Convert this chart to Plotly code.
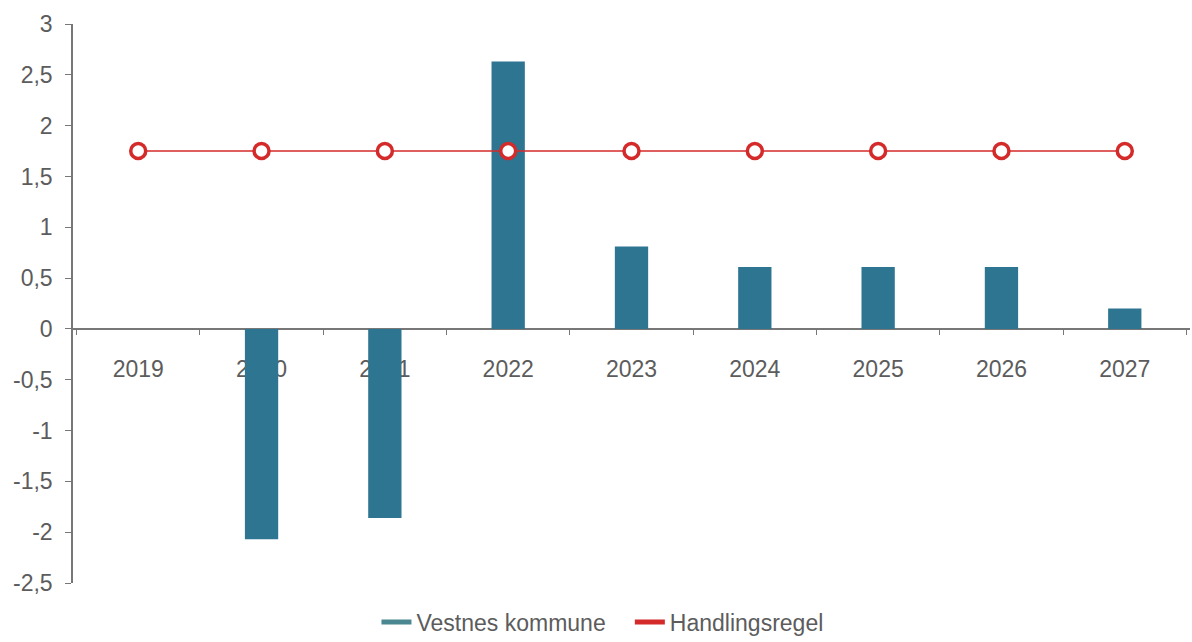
import plotly.graph_objects as go

years = ["2019", "2020", "2021", "2022", "2023", "2024", "2025", "2026", "2027"]
vestnes = [0, -2.07, -1.86, 2.63, 0.81, 0.61, 0.61, 0.61, 0.2]
handlingsregel = [1.75] * 9
y_tickvals = [3, 2.5, 2, 1.5, 1, 0.5, 0, -0.5, -1, -1.5, -2, -2.5]
y_ticktext = ["3", "2,5", "2", "1,5", "1", "0,5", "0", "-0,5", "-1", "-1,5", "-2", "-2,5"]

ymin, ymax = -2.5, 3
bar_color = "#2d7591"
line_color = "#d42a2a"
text_color = "#5c5c5c"

fig = go.Figure()
fig.add_trace(go.Bar(
    x=years, y=vestnes, name="Vestnes kommune",
    marker=dict(color=bar_color, line=dict(width=0)),
    width=0.27, showlegend=False,
))
fig.add_trace(go.Scatter(
    x=years, y=handlingsregel, name="Handlingsregel",
    mode="lines+markers",
    line=dict(color=line_color, width=1.5),
    marker=dict(symbol="circle", size=15, color="white",
                line=dict(color=line_color, width=3.5)),
    showlegend=False,
))
# legend entries (line swatches as in the reference)
fig.add_trace(go.Scatter(x=[None], y=[None], mode="lines", name="Vestnes kommune   ",
                         line=dict(color="#4a8790", width=5)))
fig.add_trace(go.Scatter(x=[None], y=[None], mode="lines", name="Handlingsregel",
                         line=dict(color=line_color, width=5)))

fig.update_layout(
    width=1192, height=642,
    margin=dict(l=73, r=2, t=24, b=59, autoexpand=False),
    paper_bgcolor="white", plot_bgcolor="white",
    font=dict(family="Liberation Sans, Arial, sans-serif", size=23, color=text_color),
    showlegend=True,
    legend=dict(orientation="h", x=0.474, xanchor="center", y=-0.070, yanchor="middle",
                font=dict(size=23, color=text_color), traceorder="normal",
                itemwidth=30),
)
fig.update_xaxes(
    type="category",
    anchor="free", position=(0 - ymin) / (ymax - ymin),
    showline=True, linecolor="#777777", linewidth=1.5,
    ticks="outside", ticklen=5, tickcolor="#777777", tickson="boundaries",
    showgrid=False, zeroline=False, layer="below traces",
    ticklabelstandoff=20, automargin=False,
    tickfont=dict(size=23, color=text_color),
)
fig.update_yaxes(
    range=[ymin, ymax],
    tickvals=y_tickvals, ticktext=y_ticktext,
    showline=True, linecolor="#777777", linewidth=1.5,
    ticks="outside", ticklen=6, tickcolor="#777777",
    showgrid=False, zeroline=False, automargin=False,
    ticklabelstandoff=8,
    tickfont=dict(size=23, color=text_color),
)

fig.write_html(
    "out.html",
    config={"displayModeBar": False},
    post_script="document.body.style.margin='0';document.body.style.overflow='hidden';",
)
